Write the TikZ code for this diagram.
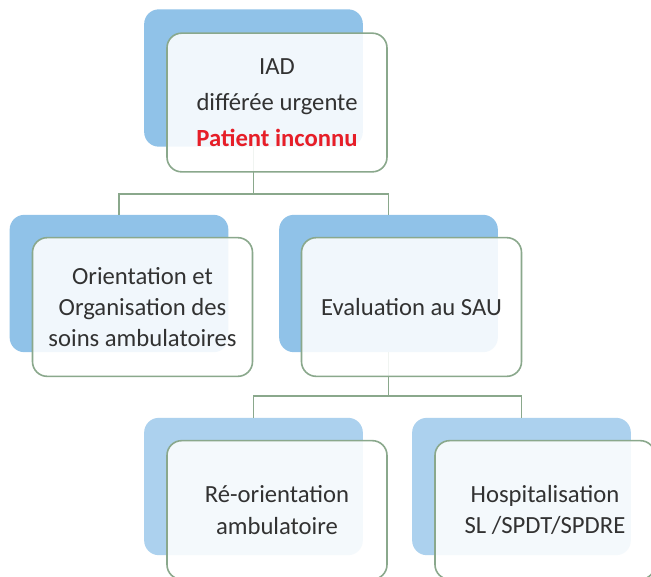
\documentclass[tikz,border=0pt]{standalone}
\usepackage{fontspec}
\setmainfont{Carlito}
\usetikzlibrary{positioning}

\definecolor{backblue}{RGB}{144,194,232}
\definecolor{backpale}{RGB}{172,209,238}
\definecolor{edgegreen}{RGB}{138,168,140}
\definecolor{textgray}{RGB}{50,50,50}
\definecolor{alertred}{RGB}{230,30,40}

\begin{document}
\begin{tikzpicture}[
    x=0.75pt, y=-0.75pt,
    back/.style={
        fill=backblue, rounded corners=11pt,
        minimum width=164pt, minimum height=103pt, inner sep=0pt
    },
    front/.style={
        draw=edgegreen, line width=1.2pt, fill=white, fill opacity=0.88,
        text opacity=1, rounded corners=11pt,
        minimum width=165pt, minimum height=104pt, inner sep=2pt,
        align=center, text=textgray, font=\fontsize{18.5}{23.5}\selectfont
    },
    link/.style={draw=edgegreen, line width=1.2pt}
]

% Page frame (the bottom row runs off the page)
\clip (0,0) rectangle (651,576);
\fill[white] (0,0) rectangle (651,576);

% Back plates
\node[back] (iadback)    at (253.5, 78)   {};
\node[back] (orientback) at (119,   283.5) {};
\node[back] (evalback)   at (388.5, 283.5) {};
\node[back, fill=backpale] (reorback) at (253.5, 486.5) {};
\node[back, fill=backpale] (hospback) at (521.5, 486.5) {};

% Branch points
\coordinate (split1) at (253.5, 194);
\coordinate (split2) at (388.5, 396);

% Tree lines (under the front cards)
\draw[link] (iadback.south) -- (split1);
\draw[link] (split1) -| (orientback.north);
\draw[link] (split1) -| (evalback.north);
\draw[link] (evalback.south) -- (split2);
\draw[link] (split2) -| (reorback.north);
\draw[link] (split2) -| (hospback.north);

% Front cards
\node[front] (iad)    at (277,   102.5) {IAD\\[3.5pt]diff\'er\'ee urgente\\[3.5pt]{\color{alertred}\bfseries Patient inconnu}};
\node[front] (orient) at (142.5, 307)   {Orientation et\\Organisation des\\soins ambulatoires};
\node[front] (eval)   at (411.5, 307)   {Evaluation au SAU};
\node[front] (reor)   at (277,   510)   {R\'e-orientation\\ambulatoire};
\node[front] (hosp)   at (545,   510)   {Hospitalisation\\SL /SPDT/SPDRE};

\end{tikzpicture}
\end{document}
